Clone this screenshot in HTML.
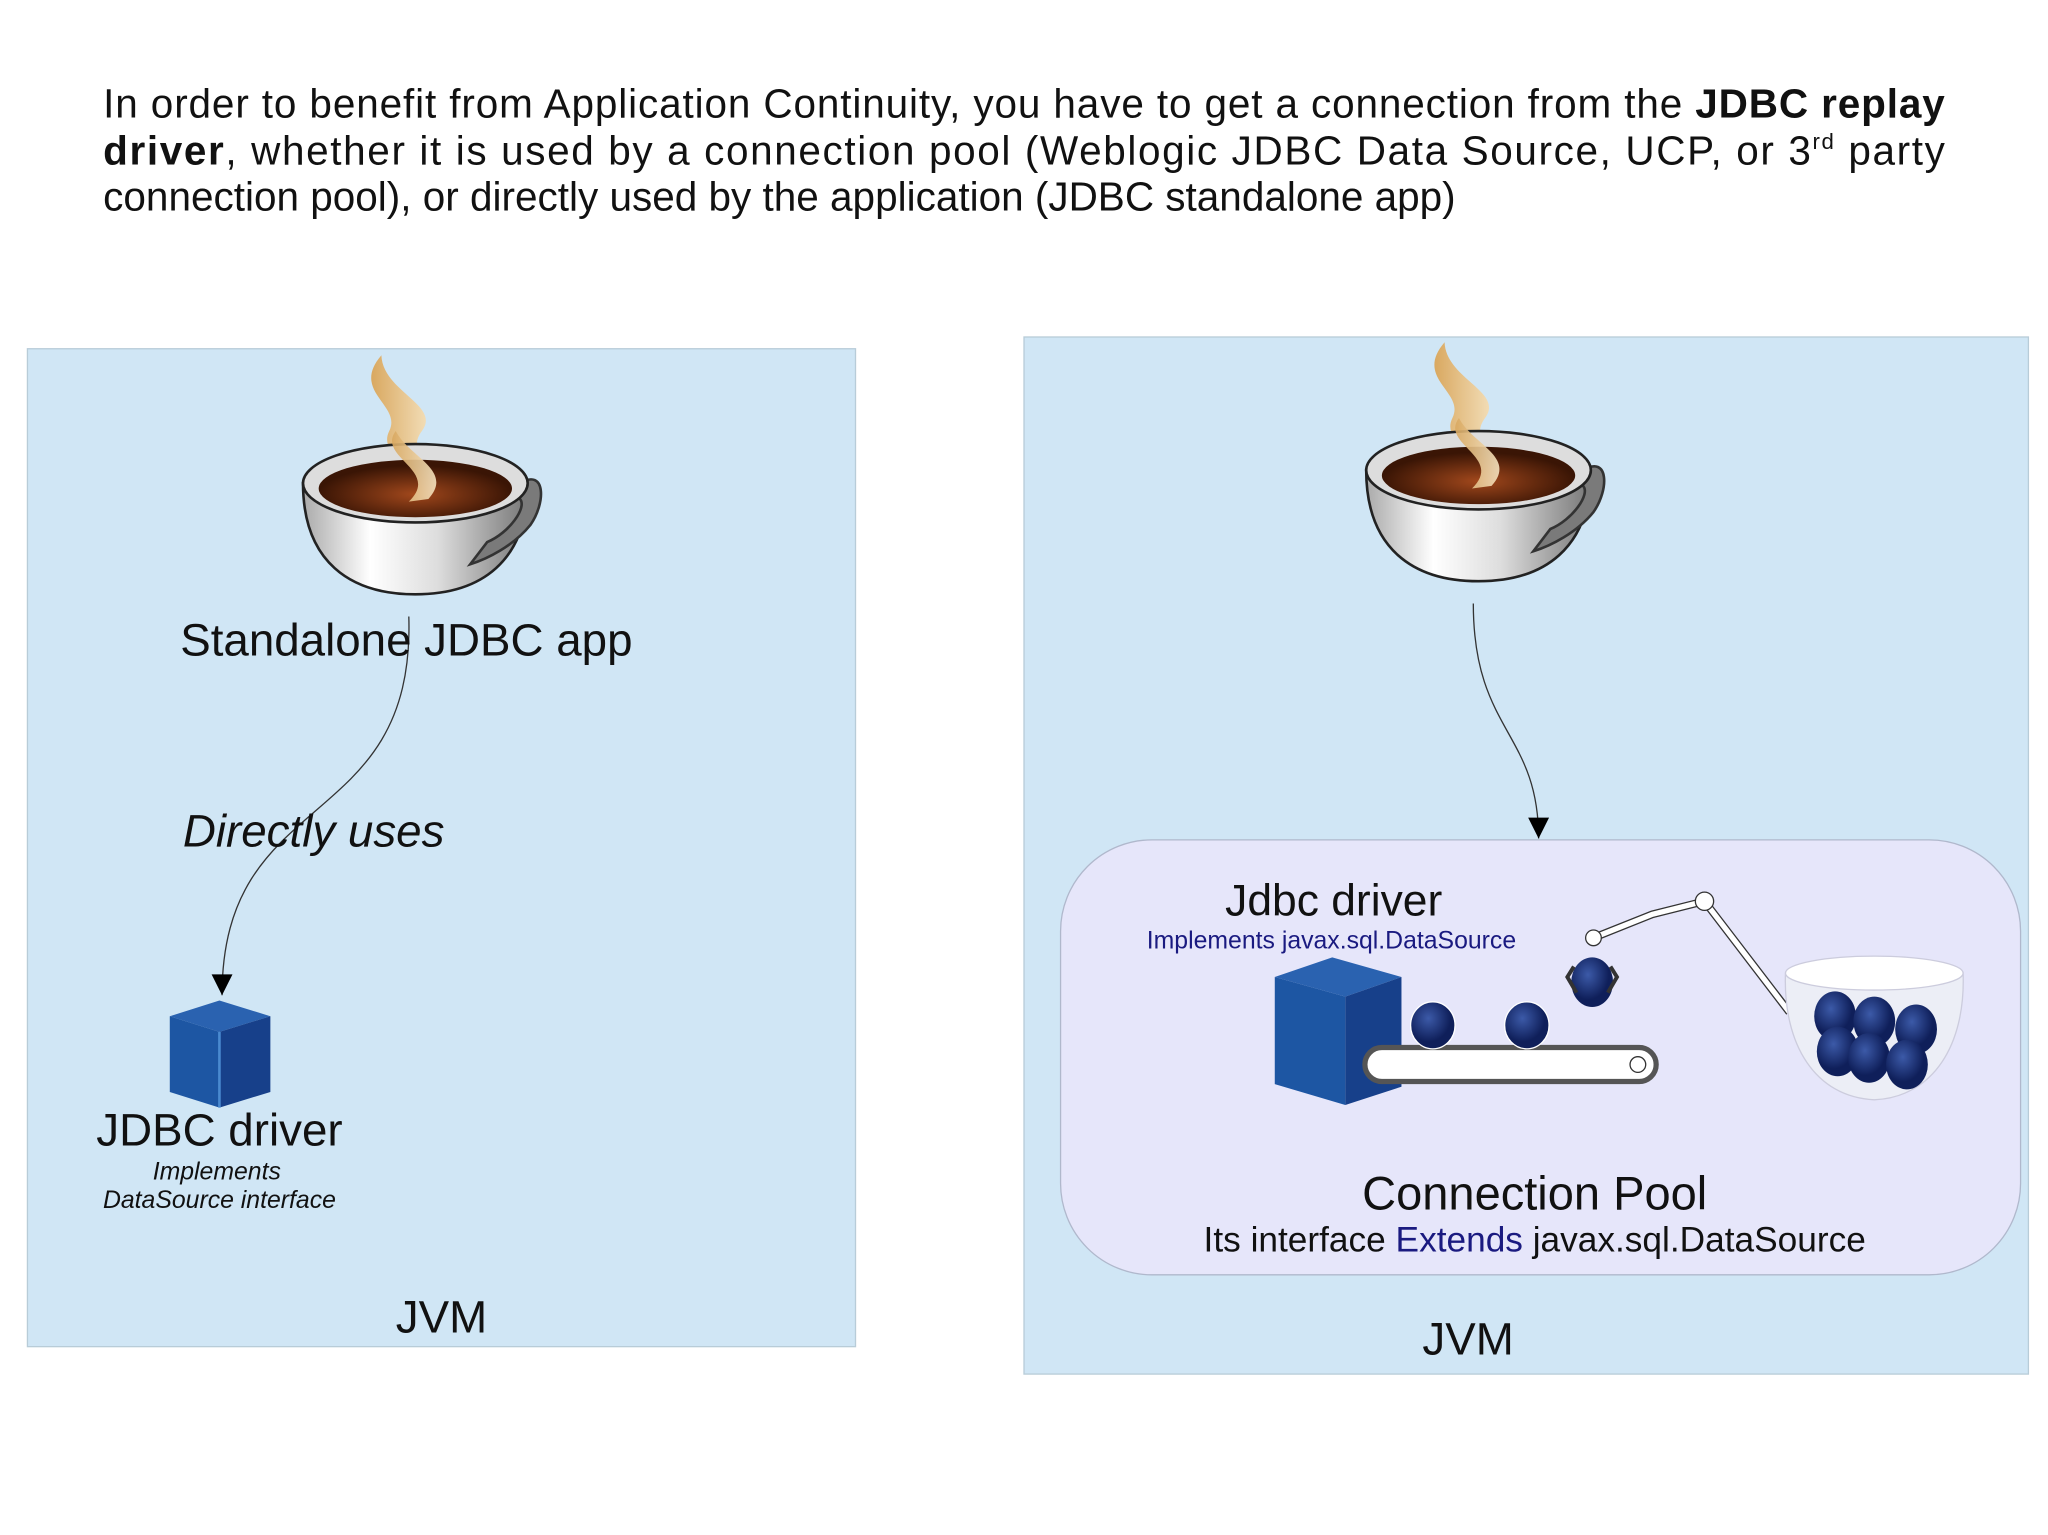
<!DOCTYPE html>
<html><head><style>html,body{margin:0;padding:0;background:#fff}svg{display:block}</style></head><body>
<svg width="2048" height="1535" viewBox="0 0 1568 1175.2" preserveAspectRatio="none" font-family="Liberation Sans, Arial, sans-serif">
<defs>
<linearGradient id="cup" x1="0" x2="1"><stop offset="0" stop-color="#aaa"/><stop offset=".3" stop-color="#fff"/><stop offset=".6" stop-color="#ddd"/><stop offset="1" stop-color="#777"/></linearGradient>
<radialGradient id="cof" cx=".5" cy=".6"><stop offset="0" stop-color="#a2481c"/><stop offset="1" stop-color="#3a1505"/></radialGradient>
<linearGradient id="steam" x1="0" x2="1"><stop offset="0" stop-color="#d9a860"/><stop offset="1" stop-color="#f5e3c0"/></linearGradient>
<radialGradient id="ball" cx=".4" cy=".35"><stop offset="0" stop-color="#3c5aa8"/><stop offset="1" stop-color="#0f1f5a"/></radialGradient>
<marker id="ar" viewBox="0 0 10 10" refX="10" refY="5" markerWidth="22" markerHeight="16" markerUnits="userSpaceOnUse" orient="auto"><path d="M0 0 L10 5 L0 10 Z" fill="#000"/></marker>
<g id="cupg">
<path d="M-26 -98 C-50 -70 -10 -60 -20 -40 C-30 -20 10 -10 -5 12 L10 12 C25 -10 -10 -20 5 -40 C20 -60 -25 -70 -26 -98Z" fill="url(#steam)"/>
<path d="M-86 0 C-86 60 -50 85 0 85 C50 85 86 60 86 0Z" fill="url(#cup)" stroke="#222" stroke-width="2"/>
<path d="M80 0 C100 -12 100 15 88 32 C75 48 55 58 42 62 L55 45 C72 38 86 18 80 12Z" fill="#7a7a7a" stroke="#333" stroke-width="2"/>
<ellipse cx="0" cy="0" rx="86" ry="30" fill="#ddd" stroke="#222" stroke-width="2"/>
<ellipse cx="0" cy="4" rx="74" ry="22" fill="url(#cof)"/>
<path d="M-15 -40 C-30 -20 20 -10 -5 14 L10 12 C30 -10 -5 -20 -15 -40Z" fill="url(#steam)" opacity=".9"/>
</g>
</defs>
<text font-size="31" fill="#111"><tspan x="79" y="90" textLength="1410" lengthAdjust="spacing">In order to benefit from Application Continuity, you have to get a connection from the <tspan font-weight="bold">JDBC replay</tspan></tspan></text>
<text font-size="31" fill="#111"><tspan x="79" y="126" textLength="1410" lengthAdjust="spacing"><tspan font-weight="bold">driver</tspan>, whether it is used by a connection pool (Weblogic JDBC Data Source, UCP, or 3<tspan font-size="17" dy="-12">rd</tspan><tspan dy="12"> party</tspan></tspan></text>
<text font-size="31" fill="#111" x="79" y="161">connection pool), or directly used by the application (JDBC standalone app)</text>

<rect x="21" y="267" width="634" height="764" fill="#d0e6f5" stroke="#b8ccd8"/>
<use href="#cupg" x="318" y="370"/>
<path d="M313 472 C318 640 170 600 170 762" fill="none" stroke="#333" stroke-width="1" marker-end="url(#ar)"/>
<text x="138" y="502" font-size="35" fill="#111">Standalone JDBC app</text>
<text x="140" y="648" font-size="35" font-style="italic" fill="#111">Directly uses</text>
<polygon points="130,778 168,766 207,778 168,790" fill="#2a62b0"/>
<polygon points="130,778 168,790 168,848 130,836" fill="#1d56a3"/>
<polygon points="168,790 207,778 207,836 168,848" fill="#17408a"/>
<line x1="168" y1="790" x2="168" y2="848" stroke="#4a8ad0" stroke-width="2"/>
<text x="168" y="877" font-size="35" text-anchor="middle" fill="#111">JDBC driver</text>
<text x="166" y="903" font-size="19" font-style="italic" text-anchor="middle" fill="#111">Implements</text>
<text x="168" y="925" font-size="19" font-style="italic" text-anchor="middle" fill="#111">DataSource interface</text>
<text x="338" y="1020" font-size="35" text-anchor="middle" fill="#111">JVM</text>

<rect x="784" y="258" width="769" height="794" fill="#d0e6f5" stroke="#b8ccd8"/>
<use href="#cupg" x="1132" y="360"/>
<path d="M1128 462 C1128 560 1178 560 1178 642" fill="none" stroke="#333" stroke-width="1" marker-end="url(#ar)"/>
<rect x="812" y="643" width="735" height="333" rx="70" fill="#e6e6fa" stroke="#b0b8cc"/>
<text x="938" y="701" font-size="34" fill="#111">Jdbc driver</text>
<text x="878" y="726" font-size="19" fill="#1a1a80">Implements javax.sql.DataSource</text>
<polygon points="976,748 1020,733 1073,748 1030,763" fill="#2a62b0"/>
<polygon points="976,748 1030,763 1030,846 976,830" fill="#1d56a3"/>
<polygon points="1030,763 1073,748 1073,832 1030,846" fill="#17408a"/>
<rect x="1045" y="802" width="223" height="26" rx="13" fill="#fff" stroke="#555" stroke-width="4"/>
<circle cx="1254" cy="815" r="6" fill="#fff" stroke="#333"/>
<ellipse cx="1097" cy="785" rx="17" ry="18" fill="url(#ball)" stroke="#fff"/>
<ellipse cx="1169" cy="785" rx="17" ry="18" fill="url(#ball)" stroke="#fff"/>
<path d="M1220 718 L1265 700 L1305 690 L1370 775" fill="none" stroke="#333" stroke-width="6"/>
<path d="M1220 718 L1265 700 L1305 690 L1370 775" fill="none" stroke="#fff" stroke-width="4"/>
<circle cx="1305" cy="690" r="7" fill="#fff" stroke="#333"/>
<circle cx="1220" cy="718" r="6" fill="#fff" stroke="#333"/>
<ellipse cx="1219" cy="752" rx="16" ry="19" fill="url(#ball)"/>
<path d="M1205 740 L1200 748 L1207 760 M1233 740 L1238 748 L1231 760" fill="none" stroke="#333" stroke-width="3"/>
<path d="M1367 745 C1365 800 1390 840 1435 842 C1480 840 1505 800 1503 745Z" fill="#eceef6" stroke="#ccd" />
<ellipse cx="1435" cy="745" rx="68" ry="13" fill="#fff" stroke="#ccd"/>
<ellipse cx="1405" cy="778" rx="16" ry="19" fill="url(#ball)"/>
<ellipse cx="1435" cy="782" rx="16" ry="19" fill="url(#ball)"/>
<ellipse cx="1467" cy="788" rx="16" ry="19" fill="url(#ball)"/>
<ellipse cx="1407" cy="805" rx="16" ry="19" fill="url(#ball)"/>
<ellipse cx="1431" cy="810" rx="16" ry="19" fill="url(#ball)"/>
<ellipse cx="1460" cy="815" rx="16" ry="19" fill="url(#ball)"/>
<text x="1175" y="926" font-size="36" text-anchor="middle" fill="#111">Connection Pool</text>
<text x="1175" y="958" font-size="27" text-anchor="middle" fill="#111">Its interface <tspan fill="#1a1a80">Extends</tspan> javax.sql.DataSource</text>
<text x="1124" y="1037" font-size="35" text-anchor="middle" fill="#111">JVM</text>
</svg>
</body></html>
